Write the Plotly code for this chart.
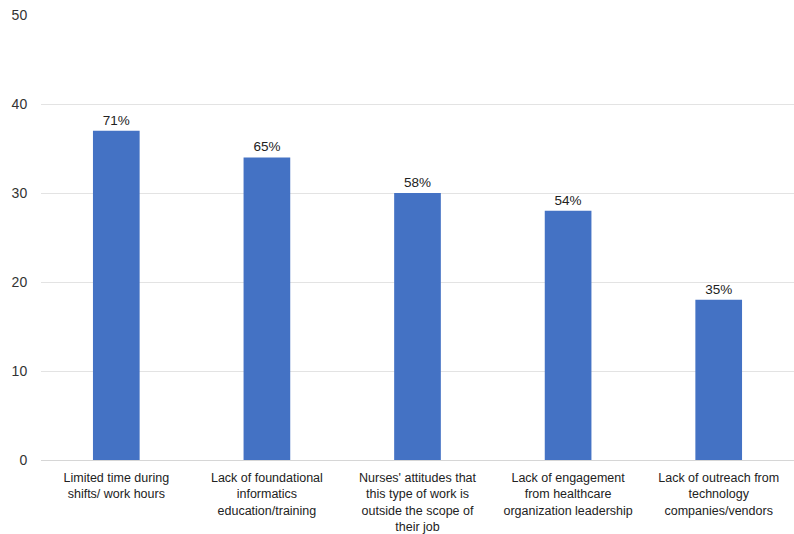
import plotly.graph_objects as go

categories = [
    "Limited time during<br>shifts/ work hours",
    "Lack of foundational<br>informatics<br>education/training",
    "Nurses' attitudes that<br>this type of work is<br>outside the scope of<br>their job",
    "Lack of engagement<br>from healthcare<br>organization leadership",
    "Lack of outreach from<br>technology<br>companies/vendors",
]
values = [37, 34, 30, 28, 18]
labels = ["71%", "65%", "58%", "54%", "35%"]
y_ticks = [0, 10, 20, 30, 40, 50]

FONT = "Liberation Sans, Arial, sans-serif"

fig = go.Figure(
    go.Bar(
        x=categories,
        y=values,
        text=labels,
        textposition="outside",
        textfont=dict(family=FONT, size=13.5, color="#222222"),
        marker=dict(color="#4472c4", line=dict(width=0)),
        cliponaxis=False,
    )
)

fig.update_layout(
    width=794,
    height=534,
    margin=dict(l=41, r=0, t=15, b=74),
    paper_bgcolor="white",
    plot_bgcolor="white",
    bargap=0.69,
    showlegend=False,
    font=dict(family=FONT, size=13, color="#222222"),
)
fig.update_xaxes(
    showgrid=False,
    showline=False,
    automargin=False,
    tickfont=dict(family=FONT, size=12.5, color="#222222"),
    ticks="outside",
    ticklen=6,
    tickcolor="rgba(0,0,0,0)",
)
fig.update_yaxes(
    range=[0, 50],
    tickvals=y_ticks,
    showgrid=True,
    automargin=False,
    gridcolor="#e3e3e3",
    gridwidth=1,
    zeroline=True,
    zerolinecolor="#d6d6d6",
    zerolinewidth=1,
    tickfont=dict(family=FONT, size=14, color="#333333"),
    ticks="outside",
    ticklen=10,
    tickcolor="rgba(0,0,0,0)",
)

fig.write_html("out.html")
